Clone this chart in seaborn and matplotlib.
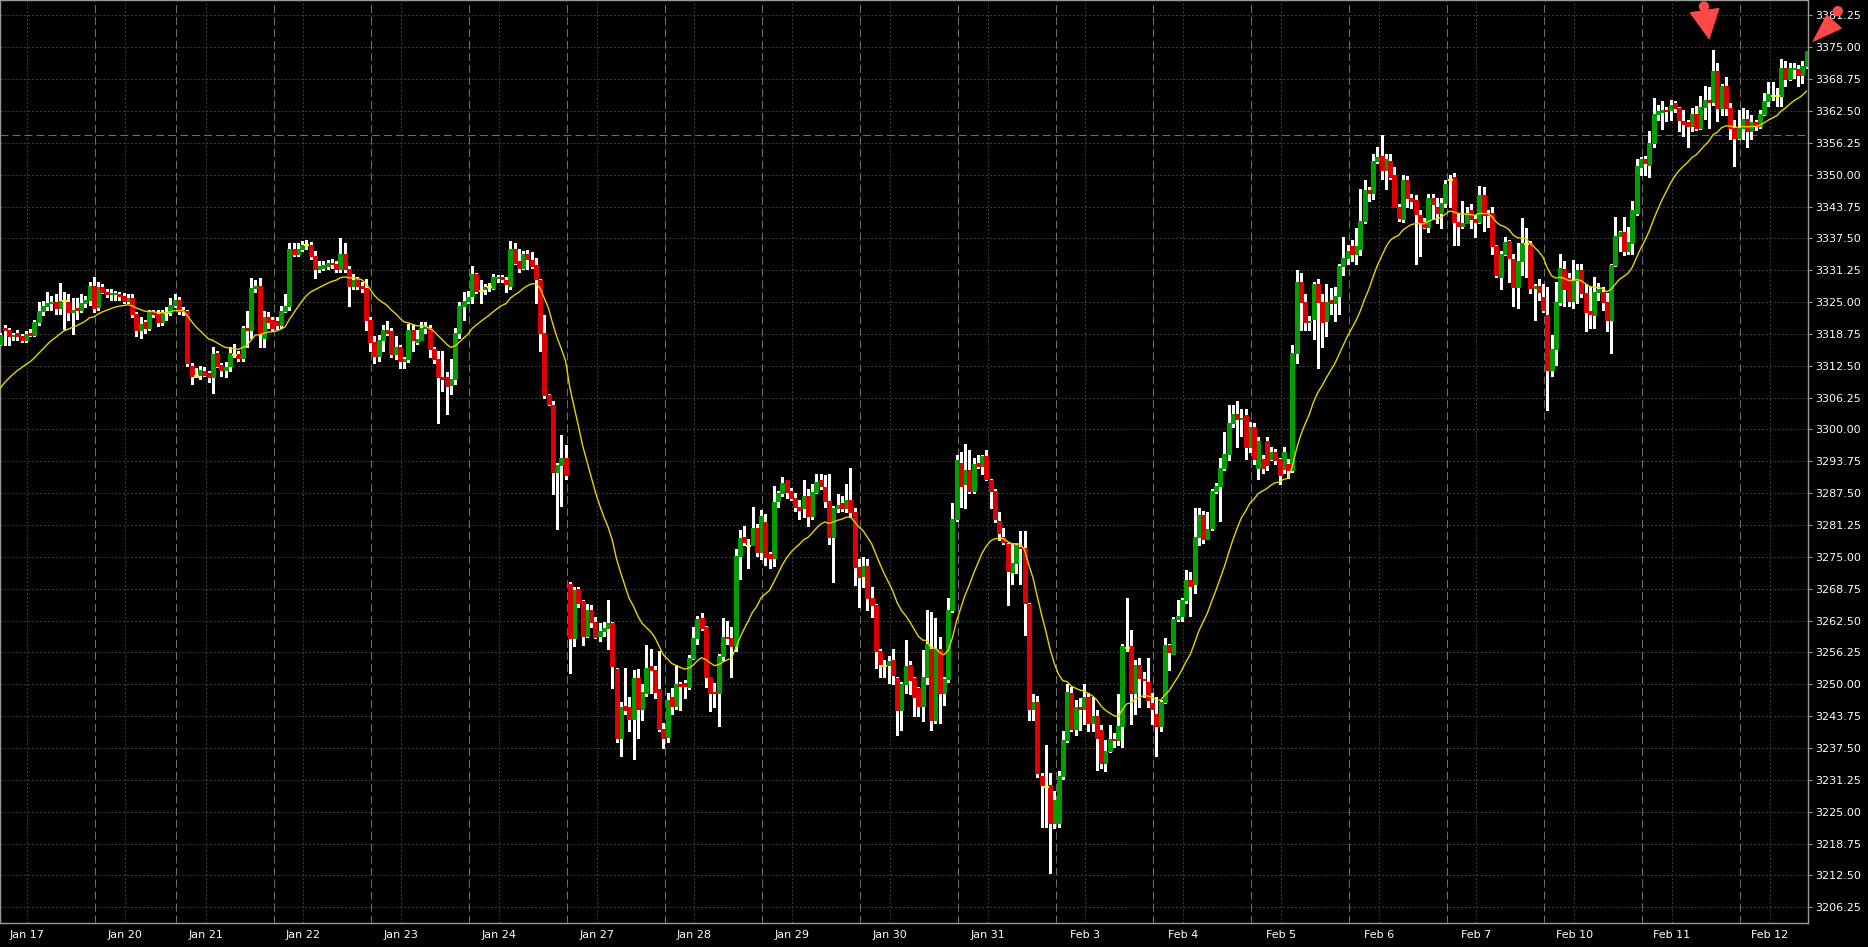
import numpy as np
import pandas as pd
import matplotlib
matplotlib.use("Agg")
import matplotlib.pyplot as plt
import seaborn as sns
from matplotlib.patches import Polygon, Circle
from matplotlib.transforms import IdentityTransform

# ---------------- data (H1 candles, one row per trading day) ----------------
day_labels = ["Jan 17", "Jan 20", "Jan 21", "Jan 22", "Jan 23", "Jan 24", "Jan 27",
              "Jan 28", "Jan 29", "Jan 30", "Jan 31", "Feb 3", "Feb 4", "Feb 5",
              "Feb 6", "Feb 7", "Feb 10", "Feb 11", "Feb 12"]
day_bars = [23, 19, 23, 23, 23, 23, 23, 23, 23, 23, 23, 23, 23, 23, 23, 23, 23, 23, 16]

opens = [
    3316.75, 3320.0, 3319.5, 3318.25, 3319.0, 3318.25, 3317.5, 3319.0, 3318.5, 3321.0, 3323.25, 3324.25, 3324.75, 3325.0, 3323.75, 3325.25, 3325.0, 3323.0, 3323.75, 3323.5, 3324.75, 3325.5, 3328.25,
    3324.0, 3328.0, 3327.0, 3326.5, 3326.5, 3326.5, 3326.25, 3325.25, 3325.75, 3322.75, 3319.5, 3321.0, 3320.0, 3323.0, 3322.75, 3321.0, 3323.0, 3323.0, 3324.5,
    3325.5, 3323.5, 3323.25, 3312.5, 3310.5, 3310.75, 3311.5, 3311.0, 3310.25, 3315.0, 3312.75, 3311.75, 3312.5, 3314.75, 3314.75, 3314.0, 3320.0, 3319.5, 3327.75, 3328.25, 3318.0, 3322.0, 3321.5,
    3321.25, 3320.5, 3323.25, 3324.25, 3335.5, 3334.5, 3335.5, 3336.25, 3336.25, 3334.0, 3331.5, 3331.75, 3332.0, 3332.75, 3332.5, 3331.5, 3334.5, 3331.5, 3328.25, 3329.5, 3328.25, 3327.75, 3321.5,
    3317.25, 3314.5, 3317.5, 3319.5, 3319.25, 3314.75, 3316.25, 3313.5, 3313.75, 3319.5, 3317.25, 3317.5, 3320.0, 3320.0, 3315.75, 3313.75, 3310.25, 3310.25, 3308.75, 3310.0, 3319.0, 3324.25, 3325.25,
    3326.25, 3330.5, 3327.25, 3327.5, 3328.0, 3327.75, 3329.75, 3330.0, 3329.25, 3328.25, 3335.5, 3333.0, 3331.75, 3334.5, 3333.25, 3332.25, 3329.25, 3319.0, 3306.75, 3304.75, 3291.75, 3293.0, 3294.5,
    3269.75, 3259.0, 3268.75, 3266.25, 3259.5, 3264.5, 3262.25, 3259.5, 3260.5, 3261.0, 3262.0, 3253.0, 3239.5, 3245.75, 3245.5, 3243.25, 3251.25, 3245.25, 3248.25, 3253.5, 3252.75, 3249.0, 3241.25,
    3239.75, 3247.5, 3245.75, 3250.0, 3250.25, 3249.5, 3255.25, 3259.0, 3263.0, 3261.25, 3251.5, 3248.5, 3248.25, 3255.5, 3259.25, 3259.0, 3257.5, 3275.25, 3279.0, 3277.25, 3277.25, 3280.75, 3276.0,
    3281.75, 3275.5, 3274.75, 3286.0, 3287.5, 3290.0, 3288.0, 3286.5, 3284.75, 3284.5, 3287.0, 3283.0, 3287.75, 3290.0, 3288.75, 3286.0, 3279.0, 3284.5, 3285.5, 3284.5, 3286.25, 3283.75, 3273.0,
    3271.25, 3273.25, 3267.0, 3265.5, 3256.5, 3253.75, 3253.75, 3254.75, 3251.25, 3245.0, 3250.0, 3253.75, 3251.25, 3249.25, 3245.75, 3251.5, 3257.0, 3243.0, 3257.0, 3248.25, 3251.0, 3264.5, 3282.5,
    3293.5, 3289.25, 3292.0, 3288.0, 3293.5, 3292.75, 3294.75, 3290.0, 3288.0, 3282.0, 3279.0, 3277.5, 3272.0, 3273.75, 3277.0, 3276.75, 3265.75, 3245.25, 3246.5, 3232.0, 3230.0, 3230.25, 3222.75,
    3222.75, 3232.0, 3239.0, 3248.25, 3241.25, 3245.5, 3245.25, 3247.5, 3242.5, 3243.75, 3241.0, 3234.5, 3237.0, 3239.25, 3239.0, 3241.75, 3257.25, 3257.5, 3248.25, 3253.75, 3251.0, 3250.5, 3246.25,
    3244.25, 3241.75, 3246.5, 3257.75, 3256.0, 3262.75, 3263.5, 3266.5, 3270.5, 3269.75, 3279.0, 3283.25, 3278.5, 3280.75, 3288.0, 3289.0, 3292.5, 3295.25, 3301.25, 3303.0, 3302.0, 3302.75, 3296.5,
    3300.5, 3292.5, 3294.25, 3297.75, 3294.25, 3295.5, 3294.25, 3292.25, 3293.25, 3292.0, 3315.0, 3329.0, 3325.0, 3321.0, 3321.75, 3328.5, 3325.0, 3321.25, 3325.5, 3324.75, 3326.25, 3332.0, 3333.75,
    3336.0, 3334.5, 3335.5, 3341.0, 3347.0, 3346.5, 3352.75, 3353.75, 3351.0, 3352.75, 3350.0, 3343.75, 3341.25, 3349.0, 3345.5, 3345.0, 3342.0, 3340.75, 3339.75, 3345.5, 3343.75, 3342.5, 3344.5,
    3349.0, 3349.5, 3340.75, 3340.0, 3340.5, 3343.0, 3341.25, 3340.75, 3346.0, 3342.0, 3342.5, 3336.0, 3330.0, 3334.5, 3337.0, 3333.5, 3328.0, 3333.0, 3336.5, 3336.5, 3327.75, 3328.25, 3326.0,
    3322.5, 3311.75, 3315.75, 3325.0, 3331.5, 3329.75, 3325.25, 3329.25, 3331.25, 3326.75, 3323.25, 3322.5, 3327.0, 3327.0, 3325.0, 3321.5, 3332.25, 3338.0, 3338.75, 3335.0, 3336.5, 3342.5, 3351.5,
    3353.0, 3352.0, 3356.25, 3362.0, 3362.25, 3362.75, 3362.75, 3364.0, 3363.0, 3360.5, 3360.25, 3359.5, 3362.0, 3359.25, 3363.25, 3364.75, 3364.25, 3370.25, 3363.0, 3367.5, 3363.0, 3359.25, 3357.25,
    3359.25, 3361.0, 3358.5, 3360.25, 3359.5, 3362.0, 3364.5, 3365.5, 3365.5, 3365.5, 3371.0, 3368.75, 3370.75, 3370.75, 3369.5, 3371.25,
]
highs = [
    3319.0, 3320.5, 3320.0, 3319.0, 3319.5, 3318.75, 3319.25, 3319.75, 3321.5, 3325.0, 3325.25, 3327.0, 3326.25, 3326.5, 3328.75, 3327.0, 3326.5, 3325.75, 3325.75, 3326.5, 3326.25, 3329.0, 3330.0,
    3329.0, 3328.5, 3327.5, 3327.5, 3327.25, 3327.0, 3326.75, 3326.5, 3326.5, 3323.0, 3322.0, 3321.5, 3323.5, 3323.5, 3323.5, 3323.5, 3324.0, 3325.75, 3326.5,
    3326.0, 3324.0, 3323.5, 3313.0, 3312.0, 3312.5, 3312.25, 3311.5, 3316.25, 3315.5, 3313.0, 3313.25, 3316.25, 3316.75, 3315.5, 3320.25, 3323.25, 3329.75, 3329.25, 3329.75, 3323.25, 3323.0, 3322.0,
    3322.0, 3324.25, 3326.5, 3336.5, 3336.5, 3336.5, 3337.0, 3337.25, 3336.75, 3335.0, 3333.0, 3333.0, 3333.25, 3333.5, 3333.0, 3337.5, 3336.5, 3332.0, 3330.5, 3330.0, 3329.0, 3329.5, 3322.0,
    3318.25, 3318.5, 3320.5, 3321.25, 3320.0, 3318.25, 3316.5, 3314.25, 3320.75, 3320.5, 3319.5, 3321.0, 3321.0, 3320.5, 3316.25, 3315.5, 3315.5, 3311.25, 3313.75, 3320.0, 3325.0, 3327.0, 3327.25,
    3332.0, 3330.75, 3329.25, 3328.5, 3328.75, 3330.5, 3330.25, 3330.25, 3330.0, 3337.0, 3336.5, 3335.5, 3335.0, 3335.25, 3334.75, 3333.75, 3329.5, 3322.5, 3307.0, 3305.5, 3293.5, 3299.0, 3297.0,
    3270.0, 3269.0, 3269.0, 3266.5, 3265.75, 3265.5, 3263.25, 3262.0, 3262.25, 3266.5, 3262.25, 3253.25, 3246.5, 3253.25, 3247.5, 3252.75, 3253.0, 3250.0, 3257.75, 3257.0, 3253.5, 3256.5, 3242.5,
    3248.25, 3249.25, 3253.75, 3250.5, 3250.75, 3255.75, 3261.25, 3263.5, 3264.0, 3261.5, 3251.5, 3250.25, 3256.0, 3263.0, 3262.5, 3261.25, 3276.5, 3280.25, 3281.0, 3278.5, 3284.75, 3281.5, 3284.25,
    3283.5, 3276.0, 3289.0, 3288.0, 3290.75, 3290.0, 3288.5, 3287.5, 3286.25, 3290.0, 3288.25, 3289.25, 3291.25, 3291.25, 3291.0, 3291.25, 3285.0, 3287.25, 3287.0, 3289.25, 3292.5, 3284.5, 3274.5,
    3275.0, 3274.5, 3269.0, 3265.75, 3257.0, 3254.75, 3255.5, 3257.0, 3251.5, 3250.5, 3258.75, 3254.5, 3251.5, 3249.5, 3256.75, 3264.5, 3264.25, 3263.0, 3259.25, 3251.5, 3267.0, 3285.5, 3295.0,
    3295.5, 3297.25, 3296.0, 3294.5, 3295.0, 3295.0, 3296.0, 3290.25, 3288.25, 3283.75, 3280.75, 3277.75, 3277.5, 3277.75, 3280.0, 3280.0, 3266.0, 3248.0, 3247.75, 3232.5, 3238.0, 3232.5, 3229.0,
    3233.0, 3240.75, 3250.0, 3249.5, 3247.0, 3247.25, 3250.0, 3248.25, 3247.5, 3245.0, 3242.0, 3239.0, 3242.0, 3240.5, 3248.0, 3258.0, 3267.0, 3260.75, 3254.75, 3255.25, 3252.5, 3255.25, 3248.25,
    3247.5, 3247.0, 3259.0, 3258.0, 3263.25, 3266.5, 3267.0, 3272.5, 3272.0, 3284.5, 3284.5, 3284.0, 3283.75, 3288.25, 3289.5, 3294.5, 3299.5, 3304.75, 3304.75, 3305.5, 3304.0, 3304.0, 3301.5,
    3301.25, 3298.5, 3295.0, 3298.5, 3296.5, 3296.25, 3294.5, 3296.5, 3294.25, 3316.5, 3331.25, 3330.75, 3326.5, 3322.25, 3329.0, 3329.5, 3326.5, 3328.5, 3327.75, 3328.0, 3332.5, 3337.75, 3336.25,
    3337.25, 3339.5, 3347.25, 3349.0, 3347.5, 3354.0, 3355.5, 3357.75, 3354.0, 3354.0, 3351.5, 3344.25, 3350.0, 3349.75, 3346.25, 3346.0, 3343.0, 3341.5, 3346.25, 3346.25, 3345.5, 3345.5, 3349.0,
    3350.0, 3350.25, 3342.5, 3344.75, 3343.75, 3344.25, 3342.0, 3347.75, 3347.5, 3343.0, 3343.75, 3336.25, 3335.0, 3337.75, 3337.25, 3334.5, 3336.5, 3341.5, 3339.5, 3337.0, 3328.5, 3329.5, 3328.5,
    3328.0, 3318.5, 3329.0, 3334.5, 3333.0, 3330.75, 3333.25, 3332.5, 3332.5, 3328.5, 3328.0, 3330.0, 3328.75, 3328.0, 3326.75, 3332.5, 3341.75, 3339.0, 3341.75, 3339.75, 3344.75, 3353.0, 3353.5,
    3353.75, 3358.5, 3365.0, 3363.75, 3364.5, 3363.25, 3364.75, 3364.5, 3363.25, 3362.75, 3360.75, 3363.0, 3363.5, 3365.5, 3367.5, 3367.25, 3374.5, 3372.0, 3367.75, 3369.25, 3364.0, 3360.75, 3362.75,
    3363.0, 3362.75, 3361.75, 3360.75, 3362.75, 3366.0, 3368.25, 3368.25, 3367.0, 3372.75, 3372.25, 3372.0, 3372.0, 3371.5, 3372.25, 3374.25,
]
lows = [
    3316.5, 3316.5, 3316.5, 3317.5, 3317.5, 3317.25, 3317.25, 3318.25, 3318.25, 3320.5, 3322.5, 3323.5, 3323.5, 3322.75, 3322.75, 3319.75, 3321.5, 3318.75, 3321.75, 3323.0, 3324.0, 3324.5, 3323.0,
    3323.5, 3326.75, 3326.0, 3325.5, 3325.5, 3325.5, 3324.75, 3324.75, 3322.0, 3318.25, 3318.0, 3319.0, 3319.5, 3322.0, 3320.25, 3320.5, 3321.5, 3322.5, 3324.0,
    3322.75, 3322.5, 3312.5, 3309.0, 3310.25, 3310.0, 3310.5, 3309.25, 3307.25, 3312.25, 3310.5, 3310.25, 3311.5, 3314.25, 3313.5, 3313.5, 3316.25, 3318.0, 3327.0, 3316.25, 3316.25, 3320.0, 3319.5,
    3319.75, 3320.0, 3323.0, 3323.5, 3334.0, 3334.0, 3335.0, 3335.5, 3333.5, 3329.75, 3331.0, 3331.25, 3331.5, 3331.75, 3331.0, 3331.0, 3331.0, 3324.25, 3327.5, 3327.5, 3327.0, 3319.5, 3315.5,
    3313.0, 3313.5, 3315.5, 3318.5, 3314.25, 3313.75, 3312.0, 3312.0, 3313.25, 3315.5, 3316.75, 3317.5, 3319.0, 3314.25, 3313.0, 3301.25, 3307.5, 3303.0, 3307.0, 3309.0, 3318.0, 3321.5, 3324.75,
    3324.75, 3326.75, 3324.75, 3326.5, 3327.25, 3327.5, 3329.0, 3329.0, 3327.0, 3327.5, 3332.5, 3331.0, 3331.5, 3331.5, 3331.75, 3324.75, 3315.5, 3306.25, 3304.75, 3287.25, 3280.5, 3285.0, 3290.25,
    3252.25, 3257.5, 3265.25, 3257.75, 3259.25, 3261.25, 3259.0, 3258.5, 3259.5, 3257.0, 3249.25, 3238.75, 3236.0, 3244.25, 3240.75, 3235.25, 3239.5, 3243.0, 3247.75, 3248.25, 3247.25, 3240.75, 3237.5,
    3238.75, 3244.25, 3245.25, 3245.0, 3247.25, 3249.0, 3255.0, 3258.0, 3260.75, 3249.5, 3244.75, 3245.5, 3241.75, 3254.75, 3258.0, 3251.5, 3256.5, 3270.75, 3277.25, 3272.75, 3277.25, 3275.25, 3274.5,
    3273.5, 3272.75, 3273.25, 3284.75, 3287.0, 3286.5, 3286.25, 3284.0, 3282.5, 3282.75, 3281.0, 3282.5, 3287.5, 3288.25, 3284.75, 3277.5, 3270.0, 3283.75, 3284.0, 3283.75, 3282.75, 3269.5, 3265.25,
    3269.0, 3264.5, 3263.25, 3253.25, 3251.5, 3251.5, 3250.25, 3250.0, 3240.0, 3241.0, 3248.25, 3248.0, 3243.75, 3243.75, 3242.75, 3250.0, 3241.0, 3242.5, 3242.5, 3246.0, 3250.5, 3264.25, 3282.0,
    3284.75, 3284.5, 3287.5, 3287.5, 3292.5, 3291.25, 3290.0, 3284.5, 3281.75, 3278.25, 3277.5, 3265.5, 3269.75, 3271.75, 3269.75, 3259.75, 3243.0, 3243.0, 3231.75, 3222.0, 3222.0, 3213.0, 3221.75,
    3222.0, 3231.5, 3238.75, 3240.75, 3240.0, 3241.0, 3242.25, 3240.75, 3240.75, 3233.25, 3233.5, 3233.0, 3236.75, 3237.75, 3238.0, 3237.75, 3256.5, 3242.25, 3244.25, 3245.5, 3247.5, 3245.5, 3242.25,
    3236.0, 3240.75, 3246.25, 3252.75, 3256.0, 3262.5, 3262.5, 3266.0, 3263.5, 3268.0, 3277.25, 3277.75, 3278.5, 3280.25, 3287.5, 3282.0, 3292.0, 3294.0, 3300.5, 3296.5, 3298.75, 3294.25, 3295.5,
    3293.25, 3290.25, 3291.5, 3292.0, 3294.0, 3293.25, 3289.25, 3291.5, 3290.5, 3291.75, 3313.0, 3319.5, 3319.5, 3319.5, 3317.75, 3312.0, 3316.25, 3318.25, 3322.75, 3321.25, 3322.75, 3330.25, 3332.5,
    3333.0, 3332.5, 3334.25, 3340.5, 3344.75, 3345.25, 3352.25, 3349.25, 3347.25, 3349.25, 3343.75, 3341.0, 3340.75, 3343.75, 3343.5, 3332.5, 3334.0, 3339.5, 3338.75, 3341.5, 3340.5, 3339.5, 3343.75,
    3343.75, 3336.25, 3336.25, 3339.5, 3340.5, 3339.5, 3337.75, 3340.5, 3339.0, 3339.75, 3334.5, 3330.0, 3327.5, 3334.25, 3329.0, 3324.25, 3323.75, 3330.25, 3330.0, 3326.75, 3321.5, 3325.5, 3323.0,
    3303.75, 3310.5, 3312.75, 3324.5, 3324.25, 3324.25, 3323.75, 3324.75, 3326.0, 3319.25, 3320.0, 3320.0, 3325.5, 3323.5, 3319.25, 3315.0, 3332.0, 3335.0, 3334.25, 3334.5, 3334.5, 3342.0, 3350.0,
    3350.0, 3349.5, 3355.5, 3360.75, 3359.0, 3360.5, 3360.75, 3362.25, 3358.5, 3357.5, 3355.5, 3358.5, 3358.75, 3359.0, 3361.0, 3359.25, 3363.75, 3360.5, 3361.75, 3361.75, 3357.0, 3351.75, 3357.0,
    3357.0, 3355.5, 3357.0, 3358.75, 3359.25, 3361.75, 3363.5, 3364.75, 3363.5, 3363.5, 3367.5, 3368.5, 3369.0, 3367.5, 3368.0, 3371.0,
]
closes = [
    3318.5, 3319.5, 3318.25, 3318.5, 3318.25, 3317.5, 3318.75, 3318.5, 3321.0, 3323.25, 3324.25, 3324.75, 3325.0, 3323.75, 3325.25, 3325.25, 3323.0, 3323.5, 3323.5, 3324.75, 3325.5, 3328.25, 3323.75,
    3328.0, 3327.0, 3326.5, 3326.75, 3326.75, 3326.25, 3325.25, 3325.75, 3322.75, 3319.5, 3320.75, 3320.0, 3323.0, 3322.75, 3321.0, 3323.0, 3323.0, 3324.5, 3325.5,
    3323.25, 3323.25, 3313.0, 3310.5, 3310.5, 3311.75, 3310.75, 3310.25, 3314.75, 3312.5, 3311.75, 3312.25, 3315.0, 3314.75, 3314.0, 3320.0, 3319.5, 3327.75, 3328.25, 3319.0, 3322.0, 3321.0, 3320.0,
    3320.5, 3323.25, 3324.25, 3335.5, 3334.5, 3335.5, 3336.25, 3336.25, 3334.0, 3331.5, 3332.0, 3332.25, 3332.75, 3332.5, 3331.5, 3334.5, 3331.5, 3328.25, 3329.25, 3328.25, 3327.75, 3321.5, 3317.25,
    3314.5, 3317.5, 3319.5, 3319.0, 3314.75, 3316.25, 3313.5, 3313.75, 3319.5, 3317.5, 3317.75, 3320.0, 3320.25, 3315.75, 3313.75, 3310.25, 3310.0, 3308.5, 3310.0, 3319.0, 3324.25, 3325.25, 3326.0,
    3330.5, 3327.25, 3327.25, 3328.0, 3328.0, 3330.0, 3330.0, 3329.5, 3328.5, 3335.5, 3332.75, 3331.75, 3334.5, 3333.5, 3332.0, 3329.5, 3319.0, 3306.75, 3305.0, 3291.75, 3293.0, 3294.5, 3291.0,
    3259.0, 3268.5, 3266.0, 3259.5, 3264.5, 3262.25, 3259.25, 3260.5, 3261.0, 3262.0, 3253.5, 3239.5, 3245.5, 3245.0, 3243.25, 3251.25, 3245.25, 3248.5, 3253.25, 3252.75, 3248.5, 3241.25, 3239.5,
    3247.0, 3245.75, 3250.0, 3249.75, 3249.75, 3255.25, 3259.0, 3262.75, 3261.0, 3251.5, 3248.25, 3248.25, 3255.5, 3259.25, 3259.0, 3257.5, 3275.25, 3278.75, 3278.0, 3277.25, 3280.75, 3276.0, 3283.0,
    3275.0, 3274.75, 3285.75, 3287.5, 3289.5, 3287.75, 3286.5, 3284.75, 3284.25, 3287.0, 3283.0, 3287.75, 3289.75, 3289.0, 3286.0, 3279.0, 3284.5, 3285.25, 3284.5, 3286.25, 3283.75, 3273.0, 3271.0,
    3273.25, 3267.0, 3265.5, 3256.5, 3254.0, 3253.75, 3254.5, 3251.75, 3245.0, 3250.0, 3253.5, 3250.75, 3247.5, 3245.75, 3251.5, 3258.0, 3243.0, 3257.0, 3248.25, 3251.0, 3264.5, 3282.5, 3294.0,
    3289.0, 3292.0, 3288.0, 3293.25, 3292.75, 3294.75, 3290.25, 3288.0, 3282.5, 3279.75, 3278.0, 3272.25, 3273.75, 3277.25, 3276.75, 3266.0, 3245.25, 3246.5, 3232.5, 3230.25, 3230.0, 3222.75, 3227.25,
    3232.0, 3239.0, 3248.5, 3241.25, 3245.5, 3245.25, 3247.5, 3242.5, 3243.75, 3239.5, 3234.5, 3237.0, 3239.25, 3239.0, 3241.75, 3257.5, 3257.25, 3248.25, 3253.75, 3251.25, 3250.75, 3247.0, 3245.25,
    3241.75, 3246.5, 3257.75, 3256.25, 3262.75, 3263.5, 3266.5, 3270.5, 3269.25, 3279.0, 3283.25, 3278.5, 3280.5, 3288.0, 3289.0, 3292.5, 3295.25, 3301.25, 3303.0, 3302.0, 3302.25, 3296.5, 3300.5,
    3294.25, 3297.75, 3292.5, 3293.0, 3295.5, 3294.0, 3291.0, 3295.5, 3292.0, 3315.0, 3329.0, 3325.0, 3321.0, 3321.25, 3328.5, 3325.0, 3321.0, 3325.0, 3324.75, 3326.25, 3332.0, 3333.75, 3335.0,
    3334.5, 3336.0, 3341.0, 3347.0, 3346.5, 3352.75, 3353.5, 3351.0, 3353.0, 3349.5, 3343.75, 3341.5, 3349.0, 3345.5, 3344.75, 3342.25, 3340.75, 3339.75, 3345.5, 3344.25, 3342.5, 3344.5, 3348.25,
    3349.0, 3340.75, 3340.0, 3340.5, 3342.5, 3341.25, 3340.75, 3346.0, 3342.0, 3342.5, 3336.0, 3330.25, 3334.5, 3336.75, 3333.75, 3328.0, 3333.0, 3336.5, 3336.5, 3327.75, 3328.25, 3327.0, 3323.5,
    3311.75, 3315.75, 3325.0, 3331.75, 3327.5, 3325.25, 3329.25, 3331.25, 3326.75, 3323.0, 3322.75, 3327.0, 3327.5, 3325.0, 3321.5, 3332.25, 3338.0, 3338.75, 3335.0, 3336.75, 3343.0, 3351.75, 3353.0,
    3352.25, 3356.25, 3362.0, 3362.5, 3362.75, 3362.5, 3363.75, 3363.0, 3360.75, 3360.0, 3359.5, 3362.0, 3359.25, 3363.25, 3364.75, 3364.25, 3370.25, 3363.0, 3367.5, 3363.0, 3359.25, 3357.25, 3359.25,
    3361.0, 3358.5, 3360.25, 3359.5, 3362.0, 3364.5, 3365.75, 3365.5, 3365.5, 3371.0, 3368.75, 3371.0, 3371.0, 3369.5, 3371.25, 3374.25,
]

price_ticks = [3206.25, 3212.50, 3218.75, 3225.00, 3231.25, 3237.50, 3243.75, 3250.00,
               3256.25, 3262.50, 3268.75, 3275.00, 3281.25, 3287.50, 3293.75, 3300.00,
               3306.25, 3312.50, 3318.75, 3325.00, 3331.25, 3337.50, 3343.75, 3350.00,
               3356.25, 3362.50, 3368.75, 3375.00, 3381.25]
ema_seed = 3307.0        # moving-average value just before the first visible bar
ema_period = 20
level_price = 3357.75    # horizontal dashed level line
arrow_marks = [(402.1, 3376.6, "down"), (426.45, 3376.1, "diag")]

# ---------------- style ----------------
sns.set_theme(style="dark")
plt.rcParams["font.family"] = ["DejaVu Sans"]
BG = "#000000"
GREEN = "#009e00"
RED = "#dc0000"
MA_COL = "#e6d400"
DOJI = "#ffff00"
GRID = "#3c3c3c"
SEP = "#6e6e6e"
AXIS = "#9a9a9a"
ARROW = "#ff4848"

n = min(len(opens), len(highs), len(lows), len(closes))
o = np.array(opens[:n]); c = np.array(closes[:n])
h = np.maximum(np.array(highs[:n]), np.maximum(o, c))
l = np.minimum(np.array(lows[:n]), np.minimum(o, c))
x = np.arange(n)

W, H = 1868, 947
fig = plt.figure(figsize=(W / 100, H / 100), dpi=100)
fig.patch.set_facecolor(BG)
ax = fig.add_axes([0.0, 24 / H, 1808 / W, 923 / H])
ax.set_facecolor(BG)

ymin, ymax = 3203.16, 3384.28
xmin, xmax = -0.07, 425.34
ax.set_xlim(xmin, xmax)
ax.set_ylim(ymin, ymax)

# day structure
starts = np.concatenate([[0], np.cumsum(day_bars)[:-1]])
tick_pos = starts + 6.3
sep_pos = starts - 0.7

# grid
ax.hlines(price_ticks, xmin, xmax, colors=GRID, linestyles=(0, (1.9, 1.9)), linewidth=0.75, zorder=1)
ax.vlines(tick_pos, ymin, ymax, colors=GRID, linestyles=(0, (1.9, 1.9)), linewidth=0.75, zorder=1)
ax.vlines(sep_pos[1:], ymin, ymax, colors=SEP, linestyles=(0, (7.7, 3.8)), linewidth=0.75, zorder=1)
ax.hlines([level_price], xmin, xmax, colors=SEP, linestyles=(0, (7.7, 3.8)), linewidth=0.75, zorder=1)

# wicks
ax.vlines(x, l, h, colors="white", linewidth=0.75, antialiased=False, zorder=3)
# bodies
lo = np.minimum(o, c); hi = np.maximum(o, c)
minh = 0.22
small = (hi - lo) < minh
mid = (hi + lo) / 2
lo = np.where(small, mid - minh / 2, lo)
hi = np.where(small, mid + minh / 2, hi)
up = c > o; dn = c < o; dj = c == o
ax.vlines(x[up], lo[up], hi[up], colors=GREEN, linewidth=2.2, antialiased=False, zorder=4)
ax.vlines(x[dn], lo[dn], hi[dn], colors=RED, linewidth=2.2, antialiased=False, zorder=4)
ax.vlines(x[dj], lo[dj], hi[dj], colors=DOJI, linewidth=2.2, antialiased=False, zorder=4)

# moving average (EMA of closes)
ema = pd.Series(np.concatenate([[ema_seed], c])).ewm(span=ema_period, adjust=False).mean().to_numpy()[1:]
ma_df = pd.DataFrame({"bar": x, "ma": ema})
sns.lineplot(data=ma_df, x="bar", y="ma", ax=ax, color=MA_COL, linewidth=1.0, zorder=5, legend=False)

# axes, ticks
for s in ax.spines.values():
    s.set_color(AXIS)
    s.set_linewidth(1.0)
ax.yaxis.tick_right()
ax.set_yticks(price_ticks)
ax.set_yticklabels([f"{v:.2f}" for v in price_ticks])
ax.set_xticks(tick_pos)
ax.set_xticklabels(day_labels)
ax.tick_params(axis="y", which="both", direction="out", length=3, width=0.75, color=AXIS,
               labelcolor="white", labelsize=8, pad=2.5, right=True, left=False)
ax.tick_params(axis="x", which="both", direction="out", length=2.5, width=0.75, color=AXIS,
               labelcolor="white", labelsize=8, pad=2.5)
ax.set_xlabel(""); ax.set_ylabel("")
ax.grid(False)

# arrow objects (pixel-shaped pins anchored at data points)
fig.canvas.draw()
def add_pin(bx, py, kind):
    tx, ty = ax.transData.transform((bx, py))
    if kind == "down":
        pts = [(0, 0), (-19.3, -26.6), (10.0, -31.0)]
        circ = (-5.3, -32.6)
    else:
        pts = [(0, 0), (14.0, -26.7), (29.0, -13.4)]
        circ = (25.0, -30.5)
    poly = [(tx + dx, ty - dy) for dx, dy in pts]
    fig.add_artist(Polygon(poly, closed=True, transform=IdentityTransform(),
                           facecolor=ARROW, edgecolor=ARROW, linewidth=0.5, zorder=20))
    fig.add_artist(Circle((tx + circ[0], ty - circ[1]), 4.5, transform=IdentityTransform(),
                          facecolor=ARROW, edgecolor=ARROW, zorder=20))

for bx, py, kind in arrow_marks:
    add_pin(bx, py, kind)

fig.savefig("out.png", dpi=100, facecolor=BG)
